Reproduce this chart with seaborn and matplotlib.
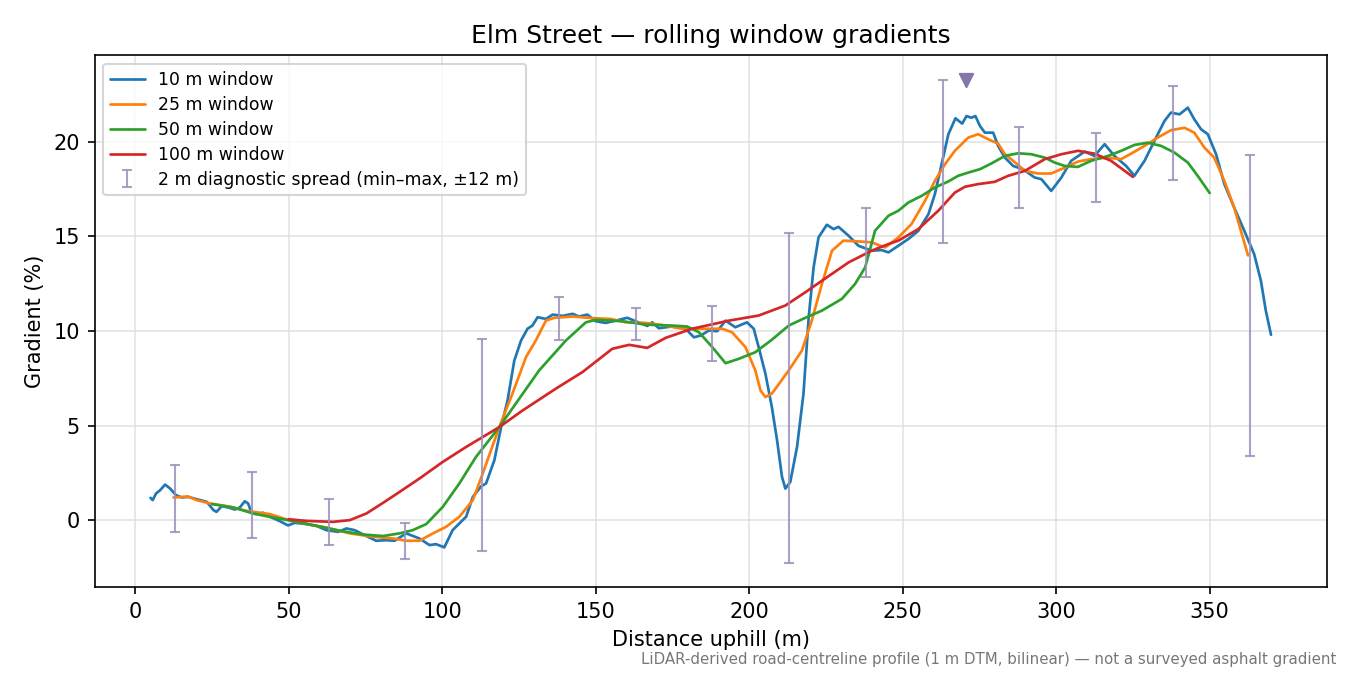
import numpy as np
import pandas as pd
import matplotlib
matplotlib.use("Agg")
import matplotlib.pyplot as plt
import seaborn as sns

# ---- data ----
x10 = [5, 5.7, 6.8, 8.1, 9.75, 11.4, 13.3, 15.2, 17.3, 20, 23.3, 25.5, 26.5, 28.2, 30.3, 32.5, 34.1, 35.7,
       36.8, 37.9, 39.5, 41.7, 43.9, 47.1, 49.8, 52, 55.8, 59, 62.3, 66.1, 68.8, 71.5, 75.3, 78.5, 81.8,
       84.5, 88.3, 92.6, 95.9, 98, 100.7, 103.4, 107.8, 110, 112.7, 114.3, 117, 119.2, 121.3, 123.5,
       125.7, 127.8, 129.4, 131.1, 133.8, 136, 139.2, 142.5, 144.6, 147.3, 150, 153.3, 156.5, 160.3, 163,
       166.8, 168.4, 170.6, 174.9, 179.3, 182, 184.2, 186.9, 189.6, 192.3, 195.5, 199.3, 201.5, 203.1,
       205.3, 207.4, 209.1, 210.7, 211.8, 213.4, 215.6, 217.7, 219.4, 221, 222.6, 225.3, 227.5, 229.1,
       232.4, 235.6, 239.9, 243.2, 245.4, 248.6, 251.9, 255.1, 258.4, 260.5, 262.7, 264.9, 267.2, 269.4,
       270.8, 272.4, 273.7, 275.2, 276.8, 279.5, 281.1, 283.3, 286, 289.2, 293, 295.2, 298.4, 301.7,
       304.9, 309.3, 312.5, 315.8, 319, 322.8, 325.5, 328.8, 332, 335.3, 337.4, 340.2, 342.9, 345, 347.2,
       349.4, 352.1, 354.8, 358, 361.3, 364.5, 366.7, 368.3, 370]
g10 = [1.18, 1.06, 1.41, 1.58, 1.88, 1.67, 1.32, 1.2, 1.23, 1.11, 0.97, 0.53, 0.44, 0.74, 0.67, 0.56, 0.67,
       1.0, 0.88, 0.39, 0.32, 0.39, 0.18, -0.05, -0.28, -0.14, -0.21, -0.3, -0.53, -0.62, -0.44, -0.53,
       -0.84, -1.09, -1.06, -1.09, -0.7, -0.97, -1.32, -1.27, -1.44, -0.53, 0.18, 1.23, 1.79, 1.94, 3.17,
       4.92, 6.33, 8.44, 9.5, 10.12, 10.29, 10.73, 10.64, 10.87, 10.8, 10.91, 10.77, 10.87, 10.52, 10.43,
       10.55, 10.7, 10.52, 10.27, 10.46, 10.15, 10.24, 10.12, 9.67, 9.76, 10.03, 9.99, 10.55, 10.2, 10.46,
       10.12, 9.15, 7.74, 5.98, 4.22, 2.29, 1.67, 2.02, 3.87, 6.69, 10.73, 13.37, 14.95, 15.62, 15.39,
       15.51, 15.04, 14.51, 14.25, 14.28, 14.16, 14.51, 14.87, 15.3, 16.18, 17.24, 18.82, 20.41, 21.25,
       20.97, 21.37, 21.28, 21.37, 20.84, 20.49, 20.49, 19.79, 19.17, 18.73, 18.56, 18.12, 18.03, 17.41,
       18.12, 19.0, 19.49, 19.26, 19.88, 19.26, 18.73, 18.21, 19.0, 20.05, 21.11, 21.55, 21.46, 21.81,
       21.2, 20.67, 20.41, 19.35, 17.77, 16.53, 15.3, 14.07, 12.66, 11.08, 9.8]

x25 = [12.5, 17.3, 20, 24.4, 29.8, 36.3, 43.9, 49.3, 55.8, 62.3, 69.9, 77.5, 84, 88.3, 92.6, 97, 101.3,
       105.6, 110, 113.2, 118.6, 122.9, 127.3, 130.5, 133.8, 136.5, 142.5, 149, 154.9, 159.8, 166.3,
       172.8, 177.1, 183.6, 191.2, 194.4, 198.8, 202, 203.7, 205.3, 207.4, 212.9, 217.2, 220.4, 223.7,
       227, 230.7, 235.6, 239.9, 244.3, 248.6, 252.9, 257.3, 260.5, 263.8, 267, 271.4, 274.6, 277.9,
       281.1, 283.3, 286, 289.8, 294.1, 298.4, 302.8, 307.1, 311.4, 316.9, 321.2, 324.4, 328.8, 333.1,
       337.4, 341.8, 345, 348.3, 351.5, 354.8, 358, 362.5]
g25 = [1.2, 1.25, 1.06, 0.88, 0.74, 0.49, 0.32, 0.04, -0.21, -0.39, -0.7, -0.88, -0.97, -1.09, -1.09,
       -0.7, -0.35, 0.18, 1.06, 2.46, 4.92, 6.69, 8.62, 9.5, 10.55, 10.7, 10.77, 10.68, 10.64, 10.46,
       10.43, 10.29, 10.15, 10.12, 10.12, 9.94, 9.15, 7.92, 6.86, 6.51, 6.69, 7.92, 8.97, 10.55, 12.49,
       14.25, 14.78, 14.74, 14.69, 14.42, 14.95, 15.66, 16.89, 17.94, 18.82, 19.53, 20.23, 20.41, 20.14,
       19.91, 19.35, 19.0, 18.47, 18.33, 18.33, 18.64, 18.96, 19.09, 19.17, 19.09, 19.38, 19.79, 20.23,
       20.62, 20.75, 20.49, 19.7, 19.17, 17.94, 16.53, 14.0]

x50 = [25, 32, 38.5, 44.9, 51.4, 59, 66.6, 74.2, 80.7, 86.1, 90.4, 94.8, 100.2, 105.6, 111, 118.6, 131.6,
       140.3, 146.8, 150, 158.7, 166.3, 174.9, 179.8, 183.6, 188, 192.3, 196.6, 202, 207.4, 212.9, 218.3,
       223.7, 230.2, 234.5, 237.8, 241, 245.4, 248.6, 251.9, 256.2, 260.5, 264.9, 268.1, 271.4, 275.2,
       278.9, 283.3, 287.6, 291.9, 296.3, 299.5, 302.8, 307.1, 311.4, 316.9, 321.2, 325.5, 329.9, 334.2,
       338.5, 342.9, 346.1, 350]
g50 = [0.85, 0.67, 0.35, 0.14, -0.05, -0.3, -0.56, -0.76, -0.84, -0.7, -0.53, -0.21, 0.7, 1.94, 3.34,
       4.92, 7.92, 9.5, 10.46, 10.59, 10.52, 10.34, 10.29, 10.24, 9.94, 9.15, 8.3, 8.53, 8.88, 9.54,
       10.29, 10.7, 11.08, 11.7, 12.49, 13.37, 15.3, 16.1, 16.36, 16.8, 17.15, 17.59, 17.91, 18.21, 18.38,
       18.56, 18.86, 19.26, 19.4, 19.35, 19.17, 18.91, 18.73, 18.68, 19.0, 19.26, 19.53, 19.84, 19.96,
       19.79, 19.44, 18.91, 18.21, 17.3]

x100 = [50, 55.8, 64.4, 69.9, 75.3, 80.7, 86.1, 92.6, 100.2, 107.8, 118.6, 126.2, 137, 145.7, 155.4,
        160.9, 166.8, 172.8, 181.4, 193.4, 203.1, 211.8, 218.3, 223.7, 232.4, 239.9, 245.4, 248.6, 255.1,
        261.6, 267, 270.3, 274.6, 280, 284.4, 289.8, 296.3, 301.7, 307.1, 312.5, 317.9, 325]
g100 = [0.05, -0.04, -0.09, 0.0, 0.35, 0.91, 1.49, 2.2, 3.08, 3.87, 4.92, 5.8, 6.95, 7.83, 9.06, 9.27,
        9.11, 9.64, 10.12, 10.55, 10.82, 11.35, 12.05, 12.66, 13.63, 14.25, 14.6, 14.78, 15.39, 16.36,
        17.32, 17.63, 17.77, 17.89, 18.21, 18.47, 19.09, 19.35, 19.53, 19.38, 19.0, 18.15]

window_labels = ["10 m window", "25 m window", "50 m window", "100 m window"]

spread_x = [13, 38, 63, 88, 113, 138, 163, 188, 213, 238, 263, 288, 313, 338, 363]
spread_lo = [-0.63, -0.95, -1.32, -2.04, -1.64, 9.5, 9.5, 8.39, -2.27, 12.88, 14.63, 16.48, 16.85, 18.01, 3.38]
spread_hi = [2.9, 2.53, 1.1, -0.14, 9.6, 11.78, 11.2, 11.35, 15.21, 16.53, 23.27, 20.81, 20.49, 22.97, 19.31]
spread_mid = [(a + b) / 2 for a, b in zip(spread_lo, spread_hi)]
spread_label = "2 m diagnostic spread (min\u2013max, \u00b112 m)"

peak_x = [270.5]
peak_y = [23.3]

title = "Elm Street \u2014 rolling window gradients"
xlabel = "Distance uphill (m)"
ylabel = "Gradient (%)"
footnote = "LiDAR-derived road-centreline profile (1 m DTM, bilinear) \u2014 not a surveyed asphalt gradient"

# ---- build long-form table ----
frames = []
for lab, xs, gs in zip(window_labels, [x10, x25, x50, x100], [g10, g25, g50, g100]):
    frames.append(pd.DataFrame({"distance": xs, "gradient": gs, "window": lab}))
df = pd.concat(frames, ignore_index=True)

sns.set_style("ticks")
plt.rcParams["font.family"] = ["DejaVu Sans"]
for k in ["text.color", "axes.labelcolor", "xtick.color", "ytick.color", "axes.edgecolor"]:
    plt.rcParams[k] = "black"

fig, ax = plt.subplots(figsize=(9, 4.5), dpi=150)

palette = dict(zip(window_labels, sns.color_palette("tab10", 4)))
sns.lineplot(data=df, x="distance", y="gradient", hue="window", hue_order=window_labels,
             palette=palette, linewidth=1.3, ax=ax, sort=False, estimator=None)

mid = np.array(spread_mid)
yerr = np.vstack([mid - np.array(spread_lo), np.array(spread_hi) - mid])
ax.errorbar(spread_x, mid, yerr=yerr, fmt="none", ecolor="#9d8fbd", alpha=0.85,
            elinewidth=1.0, capsize=2.5, capthick=1.0, label=spread_label)

ax.scatter(peak_x, peak_y, marker="v", s=40, color="#8677a8", zorder=5)

ax.margins(x=0.05, y=0.05)
ax.grid(True, color="#dddddd", alpha=0.8, linewidth=0.8)
for s in ax.spines.values():
    s.set_visible(True)
    s.set_color("black")
    s.set_linewidth(0.8)

ax.set_title(title, fontsize=12)
ax.set_xlabel(xlabel, fontsize=10)
ax.set_ylabel(ylabel, fontsize=10)
ax.tick_params(labelsize=10, colors="black")

handles, labels = ax.get_legend_handles_labels()
ax.legend(handles, labels, loc="upper left", fontsize=8.3, labelspacing=0.4,
          frameon=True, framealpha=0.8)

fig.subplots_adjust(left=0.07, right=0.983, top=0.918, bottom=0.13)
fig.text(0.99, 0.012, footnote, ha="right", va="bottom", fontsize=7.2, color="#777777")

fig.savefig("out.png", dpi=150)
